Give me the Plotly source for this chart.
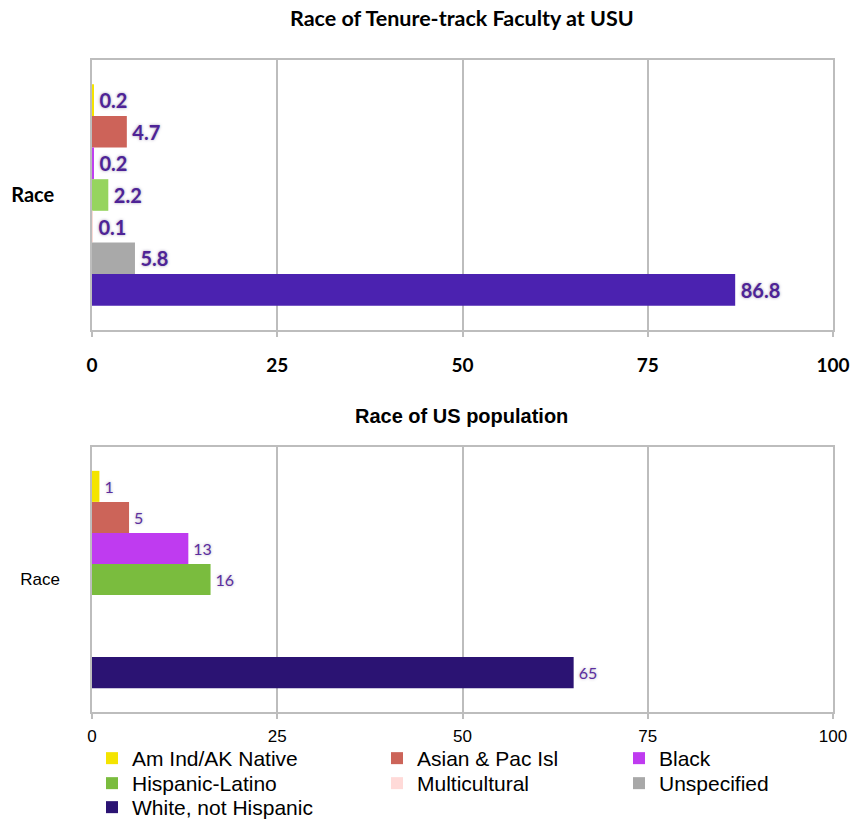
import plotly.graph_objects as go

categories = ["Am Ind/AK Native", "Asian & Pac Isl", "Black", "Hispanic-Latino",
              "Multicultural", "Unspecified", "White, not Hispanic"]
usu_values = [0.2, 4.7, 0.2, 2.2, 0.1, 5.8, 86.8]
us_values = [1, 5, 13, 16, None, None, 65]
group_label = ["Race"]
x_ticks = [0, 25, 50, 75, 100]

usu_colors = ["#F5E400", "#CD6359", "#C040F0", "#96D45E", "#FADAD5", "#A9A9A9", "#4B22B0"]
us_colors = ["#F4E400", "#CC6459", "#BF3BF0", "#7ABC3E", "#FFDAD8", "#A8A8A8", "#2B1373"]

W, H = 854, 824
# legend grid (pixel positions of each entry's text start and row centre)
legend_text_x = [132, 417, 659, 132, 417, 659, 132]
legend_row_y = [759, 759, 759, 784, 784, 784, 808]

fig = go.Figure()

for name, v, c in zip(categories, usu_values, usu_colors):
    fig.add_trace(go.Bar(
        x=[v], y=group_label, name=name, orientation="h", marker_color=c,
        marker_line_width=0, xaxis="x", yaxis="y", showlegend=False,
        texttemplate="\u2009%{x}", textposition="outside", cliponaxis=False,
        textfont=dict(family="Lato", size=20, color="#4E2396", weight="bold",
                      shadow="0px 0px 3px rgba(90,70,120,0.55)"),
    ))

for i, (name, v, c) in enumerate(zip(categories, us_values, us_colors)):
    fig.add_trace(go.Bar(
        x=[v], y=group_label, name=name, orientation="h", marker_color=c,
        marker_line_width=0, xaxis="x2", yaxis="y2",
        legend="legend" if i == 0 else f"legend{i + 1}",
        texttemplate="\u2009%{x}", textposition="outside", cliponaxis=False,
        textfont=dict(family="Lato", size=16, color="#5B2E9E",
                      shadow="0px 0px 3px rgba(90,70,120,0.45)"),
    ))

grid = "#BDBDBD"
top_dom = [1 - 330 / H, 1 - 60 / H]
bot_dom = [1 - 712 / H, 1 - 447 / H]
xdom = [92 / W, 833 / W]

common_x = dict(range=[0, 100], tickvals=x_ticks, showgrid=True, gridcolor=grid, gridwidth=1.5,
                showline=True, mirror=True, linecolor=grid, linewidth=1.5,
                ticks="outside", ticklen=5, tickcolor=grid, tickwidth=1.5, zeroline=False,
                domain=xdom, fixedrange=True, automargin=False)
common_y = dict(type="category", autorange="reversed", showline=True, mirror=True,
                linecolor=grid, linewidth=1.5, ticks="", showgrid=False, fixedrange=True,
                automargin=False)

legend_font = dict(family="Liberation Sans, Arial, sans-serif", size=21, color="#000000")
legends = {}
for i in range(len(categories)):
    key = "legend" if i == 0 else f"legend{i + 1}"
    legends[key] = dict(orientation="v", xanchor="left", yanchor="top", font=legend_font,
                        bgcolor="rgba(0,0,0,0)", borderwidth=0,
                        x=(legend_text_x[i] - 40) / W,
                        y=1 - (legend_row_y[i] - 21) / H)

fig.update_layout(
    width=W, height=H,
    margin=dict(l=0, r=0, t=0, b=0, autoexpand=False),
    paper_bgcolor="white", plot_bgcolor="white",
    barmode="group", bargap=0.18, bargroupgap=0,
    xaxis=dict(**common_x, anchor="y",
               tickfont=dict(family="Lato", size=19, color="#000000", weight="bold"),
               ticklabelstandoff=12),
    yaxis=dict(**common_y, domain=top_dom, anchor="x",
               tickfont=dict(family="Lato", size=20, color="#000000", weight="bold"),
               ticklabelstandoff=32),
    xaxis2=dict(**common_x, anchor="y2",
                tickfont=dict(family="Liberation Sans, Arial, sans-serif", size=17, color="#000000"),
                ticklabelstandoff=3),
    yaxis2=dict(**common_y, domain=bot_dom, anchor="x2",
                tickfont=dict(family="Liberation Sans, Arial, sans-serif", size=17, color="#000000"),
                ticklabelstandoff=27),
    annotations=[
        dict(text="Race of Tenure-track Faculty at USU", x=462 / W, y=1 - 18 / H,
             xref="paper", yref="paper", showarrow=False, xanchor="center", yanchor="middle",
             font=dict(family="Lato", size=21.5, color="#000000", weight="bold")),
        dict(text="Race of US population", x=461 / W, y=1 - 416 / H,
             xref="paper", yref="paper", showarrow=False, xanchor="center", yanchor="middle",
             font=dict(family="Liberation Sans, Arial, sans-serif", size=20, color="#000000",
                       weight="bold")),
    ],
    **legends,
)

fig.write_html("out.html", config={"displayModeBar": False},
               post_script="document.body.style.margin='0';")
